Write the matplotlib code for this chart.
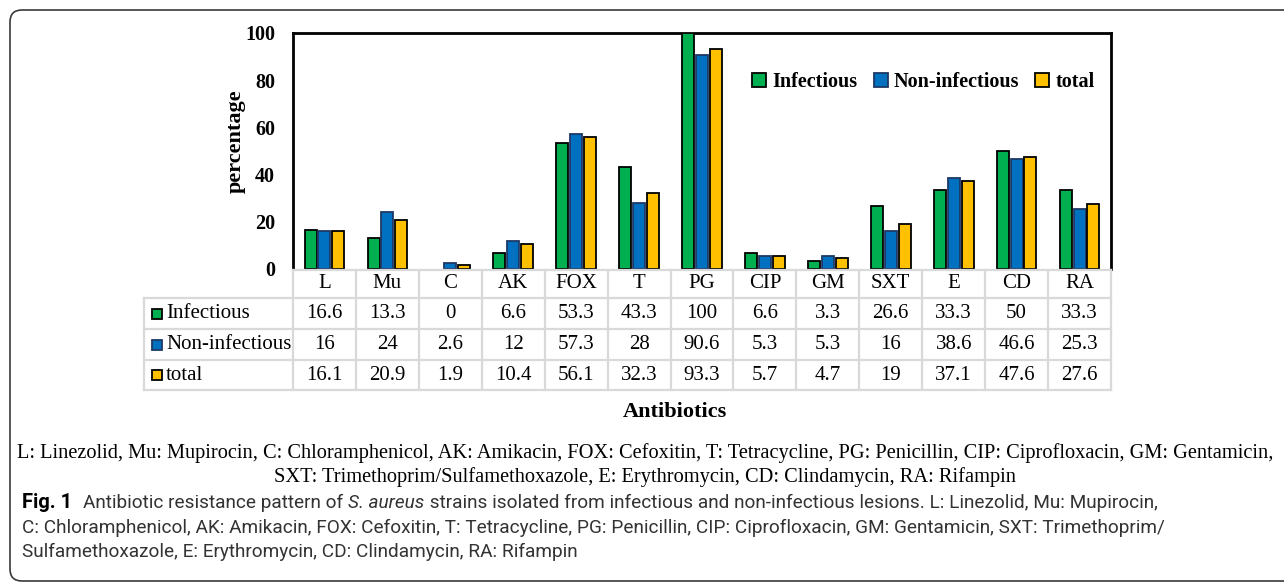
import numpy as np
import matplotlib
matplotlib.use("Agg")
import matplotlib.pyplot as plt
import matplotlib.transforms as mtransforms
from matplotlib.patches import Rectangle, FancyBboxPatch
from matplotlib.lines import Line2D

categories = ["L", "Mu", "C", "AK", "FOX", "T", "PG", "CIP", "GM", "SXT", "E", "CD", "RA"]
infectious = [16.6, 13.3, 0, 6.6, 53.3, 43.3, 100, 6.6, 3.3, 26.6, 33.3, 50, 33.3]
non_infectious = [16, 24, 2.6, 12, 57.3, 28, 90.6, 5.3, 5.3, 16, 38.6, 46.6, 25.3]
total = [16.1, 20.9, 1.9, 10.4, 56.1, 32.3, 93.3, 5.7, 4.7, 19, 37.1, 47.6, 27.6]
series_names = ["Infectious", "Non-infectious", "total"]
yticks = [0, 20, 40, 60, 80, 100]

abbrev_lines = [
    "L: Linezolid, Mu: Mupirocin, C: Chloramphenicol, AK: Amikacin, FOX: Cefoxitin, T: Tetracycline, "
    "PG: Penicillin, CIP: Ciprofloxacin, GM: Gentamicin,",
    "SXT: Trimethoprim/Sulfamethoxazole, E: Erythromycin, CD: Clindamycin, RA: Rifampin",
]
caption_lines = [
    [("Fig. 1", "bold", "normal"), ("Antibiotic resistance pattern of ", "normal", "normal"),
     ("S. aureus", "normal", "italic"),
     (" strains isolated from infectious and non-infectious lesions. L: Linezolid, Mu: Mupirocin,", "normal", "normal")],
    [("C: Chloramphenicol, AK: Amikacin, FOX: Cefoxitin, T: Tetracycline, PG: Penicillin, CIP: Ciprofloxacin, "
      "GM: Gentamicin, SXT: Trimethoprim/", "normal", "normal")],
    [("Sulfamethoxazole, E: Erythromycin, CD: Clindamycin, RA: Rifampin", "normal", "normal")],
]

colors = ["#00B050", "#0070C0", "#FFC000"]
edges = ["black", "#1F3864", "black"]
serif = "Liberation Serif"
grid_col = "#D9D9D9"

W, H = 1284, 582
fig = plt.figure(figsize=(W / 100, H / 100), dpi=100)


def fx(p):
    return p / W


def fy(p):
    return 1 - p / H


# outer rounded frame (pixel coords)
frame = FancyBboxPatch((10, 1), 1300, 571, boxstyle="round,pad=0,rounding_size=12",
                       transform=mtransforms.IdentityTransform(), fill=False,
                       edgecolor="#3a3a3a", lw=1.2)
fig.add_artist(frame)

ax = fig.add_axes([fx(293), fy(269), fx(1111) - fx(293), fy(33) - fy(269)])
x = np.arange(len(categories))
offsets = [-0.22, 0, 0.22]
for vals, name, c, ec, off in zip([infectious, non_infectious, total], series_names, colors, edges, offsets):
    b = ax.bar(x + off, vals, width=0.19, color=c, edgecolor=ec, lw=1.3, label=name, zorder=3)
    for p in b.patches:
        if p.get_height() == 0:
            p.set_visible(False)

ax.set_xlim(-0.5, len(categories) - 0.5)
ax.set_ylim(0, 100)
ax.set_xticks([])
ax.set_yticks(yticks)
ax.set_yticklabels([str(t) for t in yticks], family=serif, fontweight="bold", fontsize=14.5)
ax.tick_params(axis="y", length=0, pad=13)
for s in ["left", "top", "right"]:
    ax.spines[s].set_linewidth(2)
ax.spines["bottom"].set_visible(False)

leg = ax.legend(ncol=3, loc="center right", bbox_to_anchor=(0.99, 0.792), frameon=False,
                prop={"family": serif, "weight": "bold", "size": 14.5},
                handlelength=0.7, handleheight=0.7, handletextpad=0.3, columnspacing=0.8,
                borderaxespad=0)

fig.text(fx(236), fy(141), "percentage", rotation=90, ha="center", va="center",
         family=serif, fontweight="bold", fontsize=16)

# data table under the axis
trans = mtransforms.blended_transform_factory(ax.transData, fig.transFigure)
row_y = [270, 298, 329, 360, 390]
for i in range(len(categories) + 1):
    fig.add_artist(Line2D([i - 0.5, i - 0.5], [fy(270), fy(390)], transform=trans,
                          color=grid_col, lw=1.6))
fig.add_artist(Line2D([fx(144), fx(144)], [fy(298), fy(390)], transform=fig.transFigure,
                      color=grid_col, lw=1.6))
fig.add_artist(Line2D([fx(293), fx(1111)], [fy(270), fy(270)], transform=fig.transFigure,
                      color=grid_col, lw=1.6))
for yy in row_y[1:]:
    fig.add_artist(Line2D([fx(144), fx(1111)], [fy(yy), fy(yy)], transform=fig.transFigure,
                          color=grid_col, lw=1.6))

for i, cat in enumerate(categories):
    fig.text(i, fy(284), cat, transform=trans, ha="center", va="center", family=serif, fontsize=15)

for r, (vals, name, c, ec) in enumerate(zip([infectious, non_infectious, total], series_names, colors, edges)):
    yc = (row_y[r + 1] + row_y[r + 2]) / 2
    for i, v in enumerate(vals):
        fig.text(i, fy(yc), f"{v:g}", transform=trans, ha="center", va="center",
                 family=serif, fontsize=15)
    fig.add_artist(Rectangle((fx(152), fy(yc + 5)), 10 / W, 10 / H, transform=fig.transFigure,
                             facecolor=c, edgecolor=ec, lw=1.3))
    fig.text(fx(166), fy(yc), name, ha="left", va="center", family=serif, fontsize=15)

fig.text(fx(675), fy(412), "Antibiotics", ha="center", va="center", family=serif,
         fontweight="bold", fontsize=16)

for yy, line in zip([453, 477], abbrev_lines):
    fig.text(fx(645), fy(yy), line, ha="center", va="center", family=serif, fontsize=14.7)

# figure caption, drawn run by run
renderer = fig.canvas.get_renderer()
cap_font = "Roboto"
for yy, runs in zip([503, 528, 552], caption_lines):
    xpos = 22
    for k, (txt, weight, style) in enumerate(runs):
        t = fig.text(fx(xpos), fy(yy), txt, ha="left", va="center", family=cap_font,
                     fontsize=13.7 if weight != "bold" else 14.5, fontweight=weight, style=style,
                     color="black" if weight == "bold" else "#333333")
        bb = t.get_window_extent(renderer)
        xpos = bb.x1 + (11 if weight == "bold" else 0)
        if style == "italic":
            xpos += 1

fig.savefig("out.png", dpi=100)
